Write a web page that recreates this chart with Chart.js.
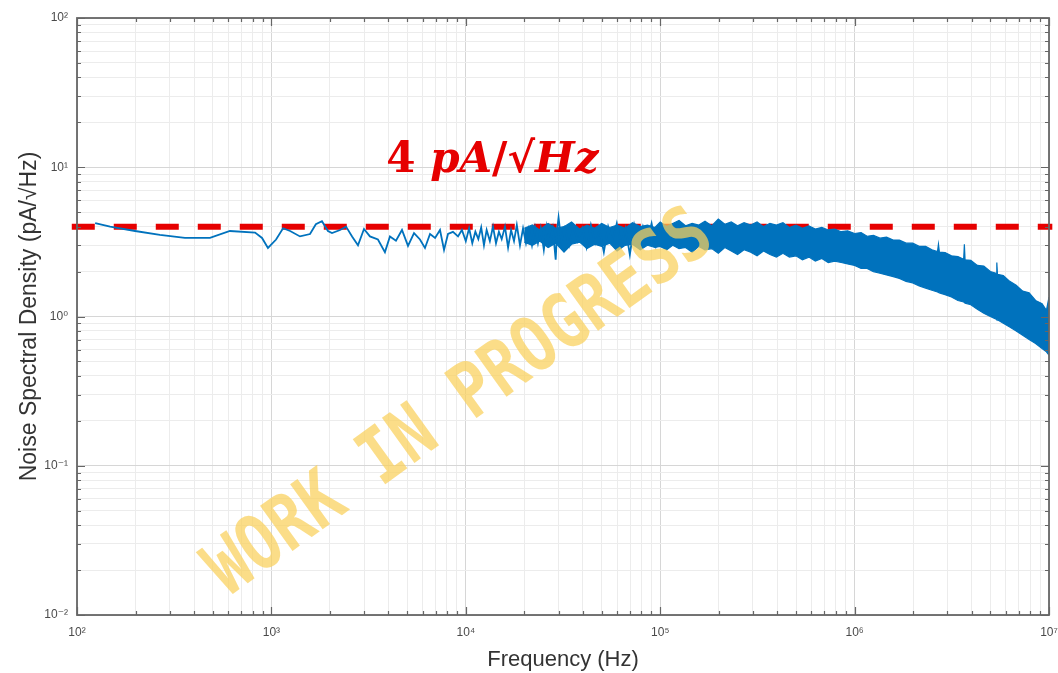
<!DOCTYPE html>
<html>
<head>
<meta charset="utf-8">
<script src="https://cdn.jsdelivr.net/npm/chart.js@4.4.1/dist/chart.umd.min.js"></script>
<style>
    html, body { margin: 0; padding: 0; background: #ffffff; }
    #wrap { width: 1058px; height: 673px; position: relative; }
</style>
</head>
<body>
<div id="wrap"><canvas id="psdChart"></canvas></div>
<script>
// Noise spectral density

// Low-frequency part of the trace (Hz, pA/rtHz)
const freqLow = [124, 148, 199, 267, 359, 483, 612, 824, 895, 960, 1057, 1148, 1248, 1403, 1580, 1693, 1820, 1954,
    2050, 2255, 2421, 2600, 2789, 2994, 3213, 3532, 3837, 4072, 4373, 4696, 5043, 5416, 5812, 6166, 6546, 6950,
    7368, 7727, 8098, 8590, 9120, 9550];
const psdLow = [4.23, 4.0, 3.74, 3.52, 3.36, 3.36, 3.74, 3.65, 3.36, 2.88, 3.28, 3.9, 3.74, 3.44, 3.57, 4.15, 4.35, 3.74,
    3.62, 3.8, 4.0, 3.44, 3.0, 3.86, 3.44, 3.28, 2.70, 3.44, 3.22, 3.8, 2.97, 3.62, 3.28, 2.88, 3.57, 3.36,
    3.8, 2.79, 3.57, 3.69, 3.44, 3.8];

// Mid band, where the trace gets dense
const freqMid = [10000, 10400, 10800, 11200, 11600, 12000, 12400, 12800, 13300, 13800,
    14300, 14800, 15300, 15900, 16500, 17100, 17700, 18300, 19000, 19700,
    20400, 21100, 21900, 22700, 23500, 24300, 25200, 26100, 27000, 28000,
    29000, 29500, 30000, 31000, 32300, 34000, 35800, 37700, 39700, 41800,
    44000, 46300, 48700, 51300, 54000, 56800, 59800, 63000, 66300, 69800,
    73500, 77400, 81500, 85800, 90300, 95000, 100000];
const psdMid = [3.2, 3.9, 3.1, 3.7, 3.3, 3.95, 3.0, 3.8, 3.2, 4.0,
    3.1, 3.7, 3.3, 4.0, 2.9, 3.8, 3.2, 4.1, 3.0, 3.9,
    3.1, 3.85, 3.0, 3.95, 3.1, 3.9, 2.8, 4.0, 3.1, 3.9,
    2.4, 3.8, 4.6, 3.2, 3.9, 3.0, 4.0, 3.2, 3.9, 2.9,
    4.1, 3.1, 3.8, 2.7, 4.0, 3.2, 4.2, 3.0, 3.9, 2.6,
    4.1, 3.1, 4.0, 3.2, 4.2, 3.0, 4.1];

// High-frequency noise band: upper and lower edge
const freqBand = [20000, 22000, 24000, 26500, 29000, 32000, 35000, 38500, 42000, 46000,
    50000, 55000, 60000, 66000, 72000, 79000, 86000, 94000, 100000, 108000,
    116000, 125000, 135000, 146000, 158000, 170000, 184000, 199000, 215000, 232000,
    250000, 270000, 292000, 315000, 340000, 367000, 396000, 428000, 462000, 499000,
    539000, 582000, 628000, 678000, 732000, 790000, 853000, 921000, 1000000, 1080000,
    1160000, 1250000, 1350000, 1460000, 1580000, 1700000, 1840000, 1990000, 2150000, 2320000,
    2500000, 2670000, 2700000, 2730000, 2920000, 3150000, 3400000, 3640000, 3670000, 3700000,
    3960000, 4280000, 4620000, 4990000, 5350000, 5390000, 5430000, 5820000, 6280000, 6780000,
    7320000, 7900000, 8530000, 9210000, 9700000, 10000000];
const psdBandHi = [3.9, 4.1, 3.8, 4.2, 3.9, 4.0, 4.3, 3.85, 4.1, 3.9,
    4.2, 3.95, 4.1, 3.9, 4.25, 4.0, 4.1, 3.95, 4.3, 4.0,
    4.2, 4.4, 4.05, 4.2, 4.1, 4.35, 4.05, 4.5, 4.15, 4.3,
    4.05, 4.25, 4.1, 4.3, 4.0, 4.2, 4.1, 4.25, 3.95, 4.1,
    3.9, 4.05, 3.85, 3.95, 3.8, 3.85, 3.7, 3.75, 3.6, 3.65,
    3.45, 3.5, 3.35, 3.4, 3.25, 3.25, 3.1, 3.1, 2.95, 2.95,
    2.8, 2.72, 3.05, 2.7, 2.68, 2.55, 2.52, 2.42, 3.05, 2.4,
    2.38, 2.2, 2.18, 2.0, 1.95, 2.3, 1.92, 1.88, 1.72, 1.62,
    1.48, 1.44, 1.28, 1.22, 1.1, 1.35];
const psdBandLo = [3.15, 3.0, 3.2, 2.9, 3.1, 2.7, 3.05, 3.15, 2.85, 3.05,
    2.95, 3.1, 2.75, 3.0, 3.05, 2.8, 3.0, 2.9, 2.95, 2.8,
    3.0, 2.85, 2.9, 2.7, 2.95, 2.8, 2.85, 2.65, 2.9, 2.75,
    2.6, 2.8, 2.7, 2.55, 2.75, 2.6, 2.5, 2.65, 2.5, 2.55,
    2.4, 2.5, 2.35, 2.45, 2.3, 2.35, 2.3, 2.25, 2.2, 2.1,
    2.1, 2.0, 1.95, 1.9, 1.85, 1.8, 1.72, 1.68, 1.6, 1.55,
    1.5, 1.46, 1.45, 1.44, 1.4, 1.35, 1.28, 1.25, 1.24, 1.23,
    1.2, 1.12, 1.05, 1.0, 0.96, 0.95, 0.95, 0.9, 0.85, 0.8,
    0.75, 0.7, 0.66, 0.61, 0.58, 0.55];

// 4 pA/rtHz reference level
const refLevel = 4;
const refSpan = [94, 10400000];

// Axis decades and their labels
const xDecades = [1e2, 1e3, 1e4, 1e5, 1e6, 1e7];
const xTickLabels = ['10\u00B2', '10\u00B3', '10\u2074', '10\u2075', '10\u2076', '10\u2077'];
const yDecades = [1e-2, 1e-1, 1, 1e1, 1e2];
const yTickLabels = ['10\u207B\u00B2', '10\u207B\u00B9', '10\u2070', '10\u00B9', '10\u00B2'];
const minorSteps = [1, 2, 3, 4, 5, 6, 7, 8, 9];

const blue = 'rgb(0, 114, 189)';
const red = '#e60000';
const axisFont = 'Liberation Sans, DejaVu Sans, sans-serif';

function isDecade(v) {
    const l = Math.log10(v);
    return Math.abs(l - Math.round(l)) < 1e-9;
}

// grid values: 1..9 per decade, plus the top decade
function gridValues(decades) {
    const vals = [];
    for (let i = 0; i < decades.length - 1; i++) {
        minorSteps.forEach(s => vals.push(+(decades[i] * s).toPrecision(6)));
    }
    vals.push(decades[decades.length - 1]);
    return vals;
}

function decadeLabel(decades, labels) {
    return function (value) {
        if (!isDecade(value)) return '';
        const i = decades.findIndex(d => Math.abs(Math.log10(d) - Math.log10(value)) < 1e-9);
        return i >= 0 ? labels[i] : '';
    };
}

function gridColor(ctx) {
    if (!ctx.tick) return '#ececec';
    return isDecade(ctx.tick.value) ? '#d6d6d6' : '#ececec';
}

const toPoints = (xs, ys) => xs.map((f, i) => ({ x: f, y: ys[i] }));

// Box around the plot with inward tick marks, then watermark and label
const framePlugin = {
    id: 'frame',
    afterDatasetsDraw(chart) {
        const { ctx, chartArea: a, scales: { x, y } } = chart;
        ctx.save();
        ctx.strokeStyle = '#666666';
        ctx.lineWidth = 1.2;
        ctx.beginPath();
        x.ticks.forEach(t => {
            const px = Math.round(x.getPixelForValue(t.value)) + 0.5;
            const len = isDecade(t.value) ? 8 : 4;
            ctx.moveTo(px, a.bottom); ctx.lineTo(px, a.bottom - len);
            ctx.moveTo(px, a.top); ctx.lineTo(px, a.top + len);
        });
        y.ticks.forEach(t => {
            const py = Math.round(y.getPixelForValue(t.value)) + 0.5;
            const len = isDecade(t.value) ? 8 : 4;
            ctx.moveTo(a.left, py); ctx.lineTo(a.left + len, py);
            ctx.moveTo(a.right, py); ctx.lineTo(a.right - len, py);
        });
        ctx.stroke();
        ctx.lineWidth = 1.8;
        ctx.strokeRect(a.left, a.top, a.right - a.left, a.bottom - a.top);
        ctx.restore();
    },
    afterDraw(chart) {
        const { ctx, scales: { x, y } } = chart;

        // "4 pA/√Hz" label
        ctx.save();
        ctx.fillStyle = red;
        ctx.textBaseline = 'alphabetic';
        const parts = [
            ['4 ', 'bold'],
            ['pA', 'italic bold'],
            ['/\u221A', 'bold'],
            ['Hz', 'italic bold']
        ];
        let tx = x.getPixelForValue(3900);
        const ty = y.getPixelForValue(9.3);
        parts.forEach(([txt, style]) => {
            ctx.font = style + ' 42px "DejaVu Serif", "Liberation Serif", serif';
            ctx.fillText(txt, tx, ty);
            tx += ctx.measureText(txt).width;
        });
        ctx.restore();

        // watermark
        ctx.save();
        ctx.translate(461, 405);
        ctx.rotate(-35.8 * Math.PI / 180);
        ctx.scale(0.92, 1.12);
        ctx.font = 'bold 68px "DejaVu Sans Mono", "Liberation Mono", monospace';
        ctx.fillStyle = 'rgba(250, 208, 90, 0.72)';
        ctx.textAlign = 'center';
        ctx.textBaseline = 'middle';
        ctx.fillText('WORK IN PROGRESS', 0, 0);
        ctx.restore();
    }
};

const ctx = document.getElementById('psdChart').getContext('2d');

new Chart(ctx, {
    type: 'line',
    data: {
        datasets: [
            {
                data: toPoints(freqLow.concat(freqMid), psdLow.concat(psdMid)),
                borderColor: blue,
                borderWidth: 1.8,
                pointRadius: 0,
                fill: false
            },
            {
                data: toPoints(freqBand, psdBandHi),
                borderColor: blue,
                backgroundColor: blue,
                borderWidth: 1.2,
                pointRadius: 0,
                fill: '+1'
            },
            {
                data: toPoints(freqBand, psdBandLo),
                borderColor: blue,
                borderWidth: 1.2,
                pointRadius: 0,
                fill: false
            },
            {
                data: toPoints(refSpan, [refLevel, refLevel]),
                borderColor: red,
                borderWidth: 6,
                borderDash: [23, 19],
                borderCapStyle: 'butt',
                pointRadius: 0,
                fill: false,
                clip: false
            }
        ]
    },
    options: {
        responsive: true,
        maintainAspectRatio: false,
        animation: false,
        layout: { padding: { top: 18, right: 9, left: 0, bottom: 0 } },
        scales: {
            x: {
                type: 'logarithmic',
                min: 1e2,
                max: 1e7,
                afterBuildTicks: s => { s.ticks = gridValues(xDecades).map(v => ({ value: v })); },
                afterFit: s => {
                    s.height = 58;
                    s.paddingLeft = 0;
                    s.paddingRight = 0;
                },
                grid: { color: gridColor, drawTicks: false },
                border: { display: false },
                ticks: {
                    autoSkip: false,
                    maxRotation: 0,
                    padding: 10,
                    color: '#4a4a4a',
                    font: { family: axisFont, size: 12 },
                    callback: decadeLabel(xDecades, xTickLabels)
                },
                title: {
                    display: true,
                    text: 'Frequency (Hz)',
                    color: '#333333',
                    font: { family: axisFont, size: 22 },
                    padding: { top: 0, bottom: 0 }
                }
            },
            y: {
                type: 'logarithmic',
                min: 1e-2,
                max: 1e2,
                afterBuildTicks: s => { s.ticks = gridValues(yDecades).map(v => ({ value: v })); },
                afterFit: s => {
                    s.width = 77;
                    s.paddingTop = 0;
                    s.paddingBottom = 0;
                },
                grid: { color: gridColor, drawTicks: false },
                border: { display: false },
                ticks: {
                    autoSkip: false,
                    padding: 9,
                    color: '#4a4a4a',
                    font: { family: axisFont, size: 12 },
                    callback: decadeLabel(yDecades, yTickLabels)
                },
                title: {
                    display: true,
                    text: 'Noise Spectral Density (pA/\u221AHz)',
                    color: '#333333',
                    font: { family: axisFont, size: 23 },
                    padding: { top: 16, bottom: 0 }
                }
            }
        },
        plugins: {
            legend: { display: false },
            tooltip: { enabled: false }
        }
    },
    plugins: [framePlugin]
});
</script>
</body>
</html>
